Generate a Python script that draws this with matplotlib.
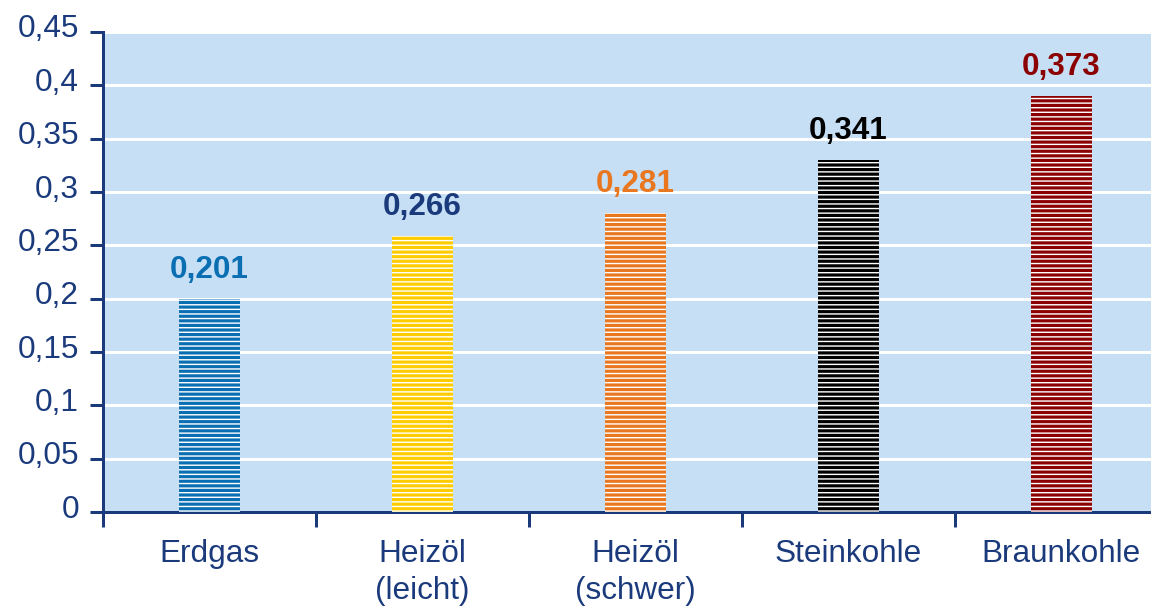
import matplotlib
matplotlib.use("Agg")
import matplotlib.pyplot as plt
import matplotlib.transforms as mtransforms
import numpy as np

DPI = 110


def pt(px):
    return px * 72.0 / DPI


plt.rcParams['font.family'] = ['Liberation Sans', 'DejaVu Sans']
plt.rcParams['hatch.linewidth'] = pt(1.4)

categories = ["Erdgas", "Heizöl\n(leicht)", "Heizöl\n(schwer)", "Steinkohle", "Braunkohle"]
bar_heights = [0.200, 0.259, 0.280, 0.330, 0.390]
value_labels = ["0,201", "0,266", "0,281", "0,341", "0,373"]
bar_colors = ["#0A6FB2", "#FFCC00", "#E8771F", "#000000", "#8B0000"]
label_colors = ["#0A6FB2", "#1A3A7C", "#E8771F", "#000000", "#8B0000"]
y_ticks = [0, 0.05, 0.1, 0.15, 0.2, 0.25, 0.3, 0.35, 0.4, 0.45]
y_tick_labels = ["0", "0,05", "0,1", "0,15", "0,2", "0,25", "0,3", "0,35", "0,4", "0,45"]

navy = "#1A3A7C"
bg = "#C7DFF4"
FS = pt(31.5)
LW = pt(3.0)

W, H = 1151, 609
fig = plt.figure(figsize=(W / DPI, H / DPI), dpi=DPI)
left, right, top, bottom = 103, 1168, 32, 512
ax = fig.add_axes([left / W, 1 - bottom / H, (right - left) / W, (bottom - top) / H])
ax.set_facecolor(bg)

x = np.arange(len(categories))
ax.bar(x, bar_heights, width=0.286, color=bar_colors, edgecolor="white",
       linewidth=0, hatch="----", zorder=3)

for xi, h, lab, c in zip(x, bar_heights, value_labels, label_colors):
    ax.annotate(lab, (xi, h), xytext=(0, pt(29)), textcoords="offset points",
                ha="center", va="center", fontsize=FS, fontweight="bold", color=c)

ax.set_xlim(-0.5, len(categories) - 0.5)
ax.set_ylim(0, 0.45)
ax.set_yticks(y_ticks)
ax.set_yticklabels(y_tick_labels)
ax.yaxis.grid(True, color="white", linewidth=LW, zorder=1)
ax.set_axisbelow(True)

ax.set_xticks(np.arange(len(categories) + 1) - 0.5)
ax.set_xticklabels([])
ax.set_xticks(x, minor=True)
ax.set_xticklabels(categories, minor=True, fontsize=FS, color=navy, linespacing=1.32)
ax.tick_params(axis="x", which="major", direction="out", length=pt(15), width=LW, color=navy)
ax.tick_params(axis="x", which="minor", length=0, pad=pt(27))
ax.tick_params(axis="y", direction="out", length=pt(13), width=LW, color=navy,
               labelsize=FS, labelcolor=navy, pad=pt(11))

for s in ["top", "right"]:
    ax.spines[s].set_visible(False)
for s in ["left", "bottom"]:
    ax.spines[s].set_color(navy)
    ax.spines[s].set_linewidth(LW)

off = mtransforms.ScaledTranslation(0, 6 / DPI, fig.dpi_scale_trans)
for lab in ax.get_yticklabels():
    lab.set_transform(lab.get_transform() + off)

fig.savefig("out.png", dpi=DPI, facecolor="white")
